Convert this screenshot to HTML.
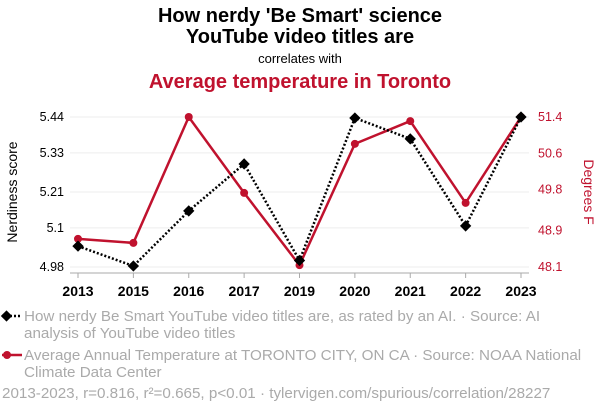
<!DOCTYPE html>
<html><head><meta charset="utf-8"><style>
body{margin:0;background:#fff;font-family:"Liberation Sans",sans-serif;}
svg text{font-family:"Liberation Sans",sans-serif;}
</style></head><body>
<svg id="c" width="600" height="414">
<text x="300" y="22" text-anchor="middle" font-size="20" font-weight="bold" fill="#000">How nerdy 'Be Smart' science</text>
<text x="300" y="43" text-anchor="middle" font-size="20" font-weight="bold" fill="#000">YouTube video titles are</text>
<text x="300" y="63" text-anchor="middle" font-size="13" fill="#000">correlates with</text>
<text x="300" y="88" text-anchor="middle" font-size="20" font-weight="bold" fill="#c0122e">Average temperature in Toronto</text>
<text transform="translate(17,192) rotate(-90)" text-anchor="middle" font-size="14" fill="#000">Nerdiness score</text>
<text transform="translate(584,192) rotate(90)" text-anchor="middle" font-size="14" fill="#c0122e">Degrees F</text>
<g id="grid"></g><g id="axes"></g><g id="series"></g>
<g font-size="15.2" fill="#aaa">
<line x1="2" y1="316" x2="22" y2="316" stroke="#000" stroke-width="2.5" stroke-dasharray="2,2"/>
<rect x="2.5" y="312" width="8" height="8" transform="rotate(45 6.5 316)" fill="#000"/>
<text x="24" y="321">How nerdy Be Smart YouTube video titles are, as rated by an AI. · Source: AI</text>
<text x="24" y="338">analysis of YouTube video titles</text>
<line x1="2" y1="355" x2="22" y2="355" stroke="#c0122e" stroke-width="2.5"/>
<circle cx="7" cy="355" r="4" fill="#c0122e"/>
<text x="24" y="360">Average Annual Temperature at TORONTO CITY, ON CA · Source: NOAA National</text>
<text x="24" y="377">Climate Data Center</text>
<text x="2" y="398">2013-2023, r=0.816, r²=0.665, p&lt;0.01 · tylervigen.com/spurious/correlation/28227</text>
</g>
</svg>
<script>
const years=["2013","2015","2016","2017","2019","2020","2021","2022","2023"];
const nerdiness=[5.044,4.983,5.152,5.296,5.0,5.437,5.373,5.106,5.44];
const temperature=[48.72,48.63,51.4,49.73,48.14,50.81,51.31,49.51,51.4];
const leftTicks=["5.44","5.33","5.21","5.1","4.98"];
const rightTicks=["51.4","50.6","49.8","48.9","48.1"];
const NS="http://www.w3.org/2000/svg";
const pxL=78,pxR=521,pyT=117,pyB=267;
const xs=i=>pxL+i*(pxR-pxL)/(years.length-1);
const yl=v=>pyB-(v-4.98)/(5.44-4.98)*(pyB-pyT);
const yr=v=>pyB-(v-48.1)/(51.4-48.1)*(pyB-pyT);
function mk(t,a,p){const e=document.createElementNS(NS,t);for(const k in a)e.setAttribute(k,a[k]);p.appendChild(e);return e;}
const grid=document.getElementById('grid'),axes=document.getElementById('axes'),ser=document.getElementById('series');
leftTicks.forEach((t,i)=>{const y=yl(parseFloat(t));
 const g=mk('line',{x1:pxL-8,x2:pxR+8,y1:y,y2:y,stroke:'#eee','stroke-width':1},grid);
 
 
 const a=mk('text',{x:pxL-14,y:y+4,'text-anchor':'end','font-size':12.5,fill:'#000'},axes);a.textContent=t;
 
 });
rightTicks.forEach(t=>{const y=yr(parseFloat(t));
 const a=mk('text',{x:pxR+17,y:y+4,'font-size':12.5,fill:'#c0122e'},axes);a.textContent=t;
 
 });
const base=mk('line',{x1:pxL-8,x2:pxR+8,y1:273,y2:273,stroke:'#aaa','stroke-width':1},axes);


years.forEach((t,i)=>{
 const tk=mk('line',{x1:xs(i),x2:xs(i),y1:273,y2:278,stroke:'#aaa','stroke-width':1},axes);
 
 
 const a=mk('text',{x:xs(i),y:296,'text-anchor':'middle','font-size':14,'font-weight':'bold',fill:'#000'},axes);a.textContent=t;
 
 });
const rl=mk('polyline',{points:temperature.map((v,i)=>xs(i)+','+yr(v)).join(' '),fill:'none',stroke:'#c0122e','stroke-width':2.5},ser);


const bl=mk('polyline',{points:nerdiness.map((v,i)=>xs(i)+','+yl(v)).join(' '),fill:'none',stroke:'#000','stroke-width':2.5,'stroke-dasharray':'2,2'},ser);


temperature.forEach((v,i)=>{const c=mk('circle',{cx:xs(i),cy:yr(v),r:4,fill:'#c0122e'},ser);
 
 });
nerdiness.forEach((v,i)=>{const x=xs(i),y=yl(v);const r=mk('rect',{x:x-4,y:y-4,width:8,height:8,fill:'#000',transform:`rotate(45 ${x} ${y})`},ser);
 
 });
</script>
</body></html>
